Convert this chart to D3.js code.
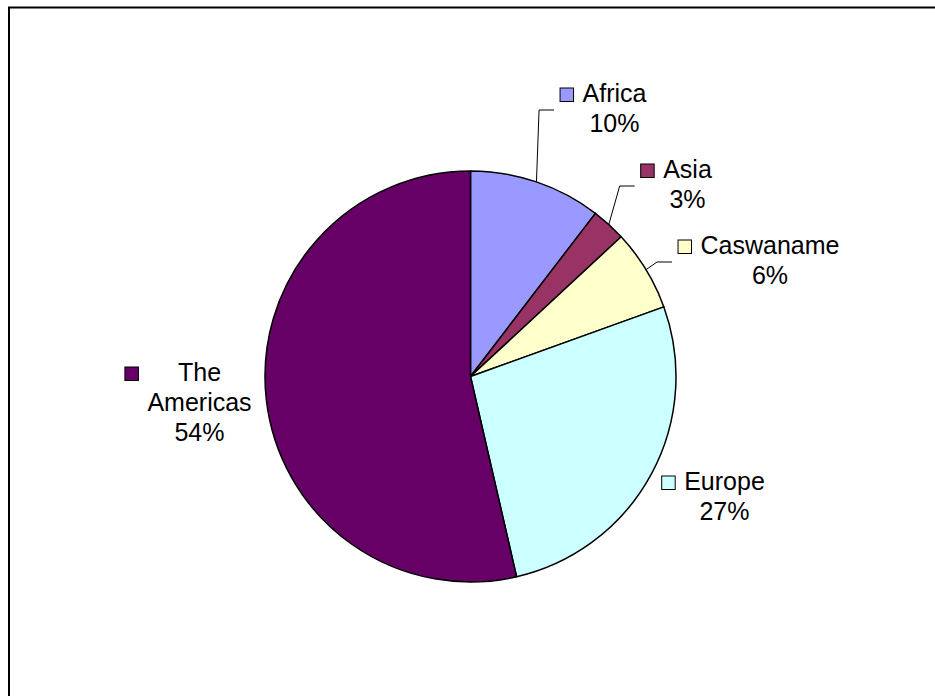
<!DOCTYPE html>
<html>
<head>
<meta charset="utf-8">
<script src="https://cdn.jsdelivr.net/npm/d3@7/dist/d3.min.js"></script>
<style>
  html, body { margin: 0; padding: 0; background: #fff; }
  svg { display: block; }
  text { font-family: "Liberation Sans", Arial, sans-serif; fill: #000; }
</style>
</head>
<body>
<svg id="chart" width="935" height="696"></svg>
<script>
// Share of records by region (percent)
const categories = ["Africa", "Asia", "Caswaname", "Europe", "The Americas"];
const shares = [10.4, 2.7, 6.4, 26.9, 53.6];
const colors = ["#9999FF", "#993366", "#FFFFCC", "#CCFFFF", "#660066"];

// Label placement: text block centre x, first baseline y, and whether a leader line is drawn
const labelLayout = [
  { cx: 614.5, y: 102, leader: true },
  { cx: 687.5, y: 178, leader: true },
  { cx: 770,   y: 254, leader: true },
  { cx: 724.5, y: 490, leader: false },
  { cx: 199.5, y: 381, leader: false }
];

const W = 935, H = 696;
const cx = 470.5, cy = 376.5, R = 205.5;
const fontSize = 25, lineGap = 30, keySize = 13.5, keyGap = 9;

const svg = d3.select("#chart");

// Outer chart frame (extends past the right and bottom edges)
svg.append("rect")
  .attr("x", 9).attr("y", 7.5)
  .attr("width", 1000).attr("height", 1000)
  .attr("fill", "none").attr("stroke", "#000").attr("stroke-width", 2);

const data = categories.map((c, i) => ({ name: c, value: shares[i], color: colors[i], layout: labelLayout[i] }));
const total = d3.sum(shares);

const pie = d3.pie().value(d => d.value).sort(null);
const arcs = pie(data);
const arc = d3.arc().innerRadius(0).outerRadius(R);

const g = svg.append("g").attr("transform", `translate(${cx},${cy})`);
g.selectAll("path.slice")
  .data(arcs)
  .join("path")
  .attr("class", "slice")
  .attr("d", arc)
  .attr("fill", d => d.data.color)
  .attr("stroke", "#000")
  .attr("stroke-width", 1.5)
  .attr("stroke-linejoin", "round");

// Data labels: legend key, category name (wrapped at spaces) and rounded percentage
arcs.forEach(a => {
  const d = a.data, L = d.layout;
  const lines = d.name.split(" ").concat([Math.round(d.value / total * 100) + "%"]);
  const lg = svg.append("g");
  const texts = lines.map((t, k) =>
    lg.append("text")
      .attr("x", L.cx).attr("y", L.y + k * lineGap)
      .attr("text-anchor", "middle")
      .attr("font-size", fontSize)
      .text(t));
  const blockLeft = d3.min(texts, t => L.cx - t.node().getComputedTextLength() / 2);
  const keyLeft = blockLeft - keyGap - keySize;
  lg.append("rect")
    .attr("x", keyLeft).attr("y", L.y - keySize - 0.5)
    .attr("width", keySize).attr("height", keySize)
    .attr("fill", d.color).attr("stroke", "#000").attr("stroke-width", 1);

  if (L.leader) {
    const mid = (a.startAngle + a.endAngle) / 2;
    const sx = cx + R * Math.sin(mid), sy = cy - R * Math.cos(mid);
    const ex = keyLeft - 6, ey = L.y + 8;
    const bx = Math.max(sx, ex - 15);
    svg.append("polyline")
      .attr("points", [[sx, sy], [bx, ey], [ex, ey]].map(p => p.join(",")).join(" "))
      .attr("fill", "none").attr("stroke", "#000").attr("stroke-width", 1);
  }
});
</script>
</body>
</html>
